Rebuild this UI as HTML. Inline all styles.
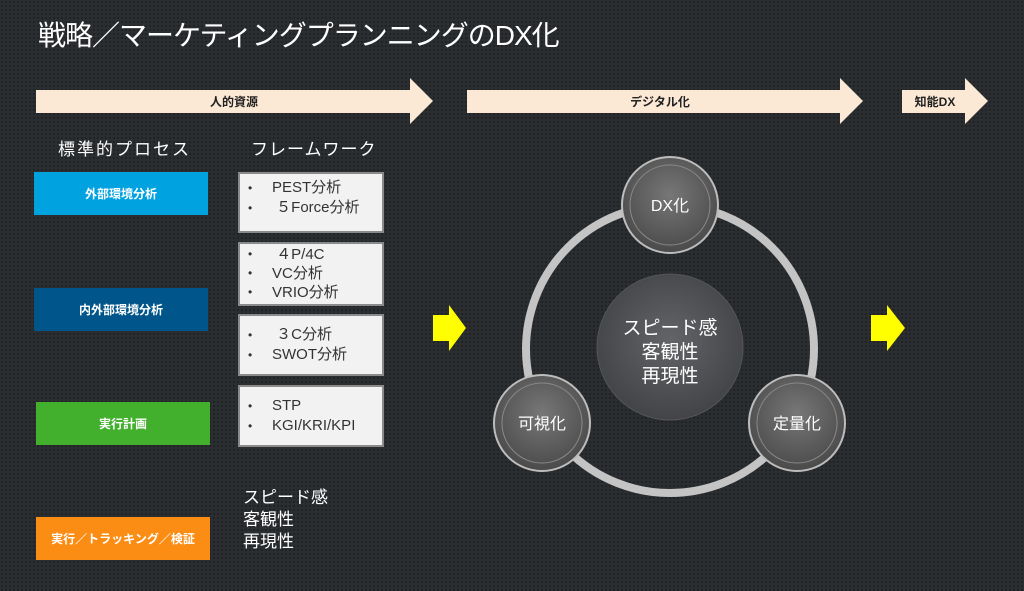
<!DOCTYPE html>
<html><head><meta charset="utf-8"><style>
*{margin:0;padding:0;box-sizing:border-box}
body{width:1024px;height:591px;overflow:hidden;position:relative;font-family:"Liberation Sans","Noto Sans CJK JP",sans-serif;
background-color:#2b2e31;background-image:radial-gradient(circle,#1f2124 1px,transparent 1.3px);background-size:4px 4px}
.a{position:absolute}
.pb{position:absolute;left:34px;width:174px;height:43px;color:#fff;font-weight:bold;font-size:12px;display:flex;align-items:center;justify-content:center}
.fb{position:absolute;left:238px;width:146px;background:#f2f2f2;border:2px solid #8a8a8a;color:#333;font-size:15px;line-height:20px;padding:4px 0 0 4px}
.fb div{position:relative;padding-left:28px}
.fb div:before{content:"•";position:absolute;left:4px;font-size:12px}
.w{color:#fff}
</style></head><body>
<div class="a w" style="left:38px;top:14px;font-size:28px;letter-spacing:-1px">戦略／マーケティングプランニングのDX化</div>
<svg class="a" style="left:0;top:0" width="1024" height="591">
<polygon points="36,90 410,90 410,78 433,101 410,124 410,113 36,113" fill="#fbe9d5"/>
<polygon points="467,90 840,90 840,78 863,101 840,124 840,113 467,113" fill="#fbe9d5"/>
<polygon points="902,90 965,90 965,78 988,101 965,124 965,113 902,113" fill="#fbe9d5"/>
<polygon points="433,315 449,315 449,305 466,328 449,351 449,341 433,341" fill="#ffff00"/>
<polygon points="871,315 887,315 887,305 905,328 887,351 887,341 871,341" fill="#ffff00"/>
<defs><radialGradient id="g" cx="50%" cy="40%" r="60%"><stop offset="0" stop-color="#777"/><stop offset="1" stop-color="#4a4a4a"/></radialGradient>
<radialGradient id="c" cx="50%" cy="45%" r="60%"><stop offset="0" stop-color="#636468"/><stop offset="1" stop-color="#404145"/></radialGradient></defs>
<circle cx="670" cy="349" r="144" fill="none" stroke="#c4c4c4" stroke-width="8"/>
<circle cx="670" cy="347" r="73" fill="url(#c)" stroke="#555" stroke-width="1"/>
<g fill="url(#g)" stroke="#bdbdbd" stroke-width="2">
<circle cx="670" cy="205" r="48"/><circle cx="542" cy="423" r="48"/><circle cx="797" cy="423" r="48"/></g>
<g fill="none" stroke="#888" stroke-width="1"><circle cx="670" cy="205" r="40"/><circle cx="542" cy="423" r="40"/><circle cx="797" cy="423" r="40"/></g>
<g font-family="Liberation Sans,Noto Sans CJK JP,sans-serif" fill="#fff" text-anchor="middle">
<text x="234" y="106" font-size="12" font-weight="bold" fill="#222">人的資源</text>
<text x="660" y="106" font-size="12" font-weight="bold" fill="#222">デジタル化</text>
<text x="935" y="106" font-size="12" font-weight="bold" fill="#222">知能DX</text>
<text x="670" y="211" font-size="16">DX化</text>
<text x="542" y="429" font-size="16">可視化</text>
<text x="797" y="429" font-size="16">定量化</text>
<text x="670" y="334" font-size="19">スピード感</text>
<text x="670" y="358" font-size="19">客観性</text>
<text x="670" y="382" font-size="19">再現性</text>
</g></svg>
<div class="a w" style="left:58px;top:135px;font-size:17px;letter-spacing:2px">標準的プロセス</div>
<div class="a w" style="left:251px;top:135px;font-size:17px;letter-spacing:1px">フレームワーク</div>
<div class="pb" style="top:172px;background:#00a2e0">外部環境分析</div>
<div class="pb" style="top:288px;background:#00568a">内外部環境分析</div>
<div class="pb" style="top:402px;left:36px;background:#42af2d">実行計画</div>
<div class="pb" style="top:517px;left:36px;background:#fb8c14">実行／トラッキング／検証</div>
<div class="fb" style="top:172px;height:61px"><div>PEST分析</div><div>&nbsp;５Force分析</div></div>
<div class="fb" style="top:242px;height:64px;padding-top:1px;line-height:19px"><div>&nbsp;４P/4C</div><div>VC分析</div><div>VRIO分析</div></div>
<div class="fb" style="top:314px;height:62px;padding-top:9px"><div>&nbsp;３C分析</div><div>SWOT分析</div></div>
<div class="fb" style="top:385px;height:62px;padding-top:9px"><div>STP</div><div>KGI/KRI/KPI</div></div>
<div class="a w" style="left:243px;top:487px;font-size:17px;line-height:22px">スピード感<br>客観性<br>再現性</div>
</body></html>
